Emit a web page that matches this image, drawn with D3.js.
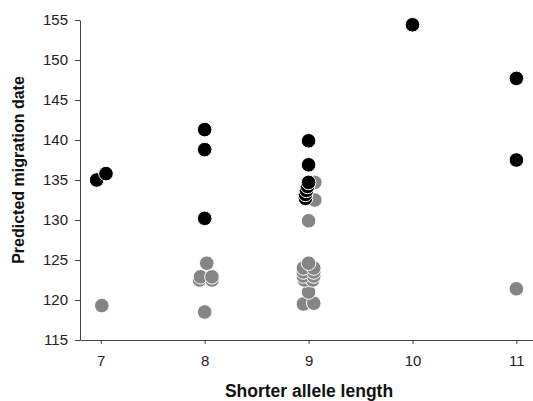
<!DOCTYPE html>
<html>
<head>
<meta charset="utf-8">
<script src="https://cdn.jsdelivr.net/npm/d3@7"></script>
<style>
  html, body { margin: 0; padding: 0; background: #fff; }
  svg { display: block; font-family: "Liberation Sans", Arial, sans-serif; }
</style>
</head>
<body>
<svg id="chart" width="533" height="401"></svg>
<script>
// Black series
const blackX = [6.96, 7.05, 8, 8, 8, 9, 9, 9, 8.99, 8.98, 8.97, 8.97, 10, 11, 11];
const blackY = [135.0, 135.8, 141.3, 138.8, 130.2, 139.9, 136.9, 134.7, 134.2, 133.7, 133.2, 132.7, 154.4, 147.7, 137.5];
// Grey series
const greyX = [7.01, 8.02, 7.96, 8.07, 7.95, 8.07, 8, 9.06, 9.06, 9, 9, 8.95, 9.05, 8.95, 9.05, 8.95, 9.05, 8.96, 9.04, 9, 8.95, 9.05, 11];
const greyY = [119.3, 124.6, 122.9, 122.9, 122.5, 122.5, 118.5, 134.7, 132.5, 129.9, 124.6, 124.0, 124.0, 123.5, 123.5, 123.0, 123.0, 122.5, 122.5, 121.0, 119.5, 119.6, 121.4];
// Ticks
const xTicks = [7, 8, 9, 10, 11];
const yTicks = [115, 120, 125, 130, 135, 140, 145, 150, 155];
const xTitle = "Shorter allele length";
const yTitle = "Predicted migration date";

const svg = d3.select("#chart");
const x = d3.scaleLinear().domain([6.8, 11.16]).range([80, 533]);
const y = d3.scaleLinear().domain([115, 155]).range([340, 20]);

const axisColor = "#444";

const gx = svg.append("g").attr("transform", "translate(0,340)")
  .call(d3.axisBottom(x).tickValues(xTicks).tickSize(4).tickSizeOuter(0).tickPadding(11).tickFormat(d3.format("d")));
const gy = svg.append("g").attr("transform", "translate(80,0)")
  .call(d3.axisLeft(y).tickValues(yTicks).tickSize(5).tickSizeOuter(0).tickPadding(7).tickFormat(d3.format("d")));

[gx, gy].forEach(g => {
  g.select(".domain").attr("stroke", axisColor).attr("stroke-width", 1);
  g.selectAll(".tick line").attr("stroke", axisColor);
  g.selectAll(".tick text").attr("fill", "#222").style("font-size", "15px")
    .style("font-family", "'Liberation Sans', Arial, sans-serif");
});

function pts(xs, ys) {
  return xs.map((v, i) => ({ x: v, y: ys[i] })).sort((a, b) => a.y - b.y);
}

svg.append("g").selectAll("circle").data(pts(greyX, greyY)).join("circle")
  .attr("cx", d => x(d.x)).attr("cy", d => y(d.y)).attr("r", 7.3)
  .attr("fill", "#858585").attr("stroke", "#fff").attr("stroke-width", 1);

svg.append("g").selectAll("circle").data(pts(blackX, blackY)).join("circle")
  .attr("cx", d => x(d.x)).attr("cy", d => y(d.y)).attr("r", 7.3)
  .attr("fill", "#000").attr("stroke", "#fff").attr("stroke-width", 1);

svg.append("text").attr("x", 309).attr("y", 397).attr("text-anchor", "middle")
  .style("font-size", "17.5px").style("font-weight", "bold").attr("fill", "#111").text(xTitle);

svg.append("text").attr("transform", "translate(24,170) rotate(-90)").attr("text-anchor", "middle")
  .style("font-size", "16px").style("font-weight", "bold").attr("fill", "#111").text(yTitle);
</script>
</body>
</html>
